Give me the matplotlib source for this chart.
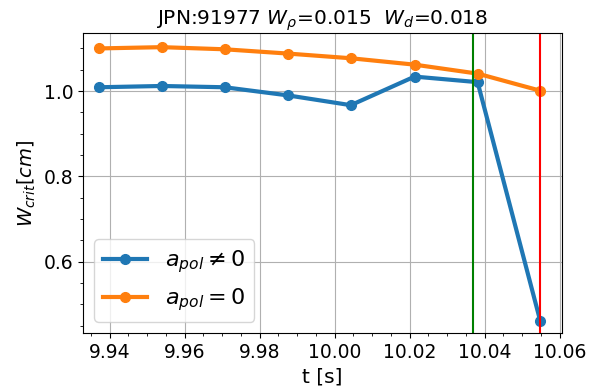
import matplotlib
matplotlib.use("Agg")
import matplotlib.pyplot as plt

# time points [s]
t = [9.9371, 9.9539, 9.9707, 9.9875, 10.0043, 10.0213, 10.0381, 10.0548]
# critical width with and without polarisation term
w_crit_pol = [1.009, 1.012, 1.009, 0.990, 0.967, 1.034, 1.021, 0.4615]
w_crit_nopol = [1.100, 1.103, 1.098, 1.088, 1.077, 1.062, 1.041, 1.001]

t_green = 10.0369
t_red = 10.0548


def main():
    fig = plt.figure(figsize=(5.95, 3.86), dpi=100)
    ax = fig.add_axes([0.1395, 0.1373, 0.805, 0.777])

    ax.plot(t, w_crit_pol, "-o", lw=3, ms=7, color="tab:blue", label=r"$a_{pol} \neq 0$")
    ax.plot(t, w_crit_nopol, "-o", lw=3, ms=7, color="tab:orange", label=r"$a_{pol} = 0$")
    ax.axvline(t_green, color="green", lw=1.5)
    ax.axvline(t_red, color="red", lw=1.5)

    ax.set_xlim(9.9329, 10.0606)
    ax.set_ylim(0.433, 1.136)
    ax.set_xticks([9.94, 9.96, 9.98, 10.00, 10.02, 10.04, 10.06])
    ax.set_yticks([0.6, 0.8, 1.0])
    ax.minorticks_on()
    ax.grid(True, which="major", color="#b0b0b0", lw=0.8)
    ax.tick_params(labelsize=13.5)

    ax.set_title(r"JPN:91977 $W_\rho$=0.015  $W_d$=0.018", fontsize=14.5)
    ax.set_ylabel(r"$W_{crit} [cm]$", fontsize=14)
    ax.set_xlabel("t [s]", fontsize=14.5)
    ax.legend(loc="lower left", fontsize=16)

    fig.savefig("out.png")


if __name__ == "__main__":
    main()
